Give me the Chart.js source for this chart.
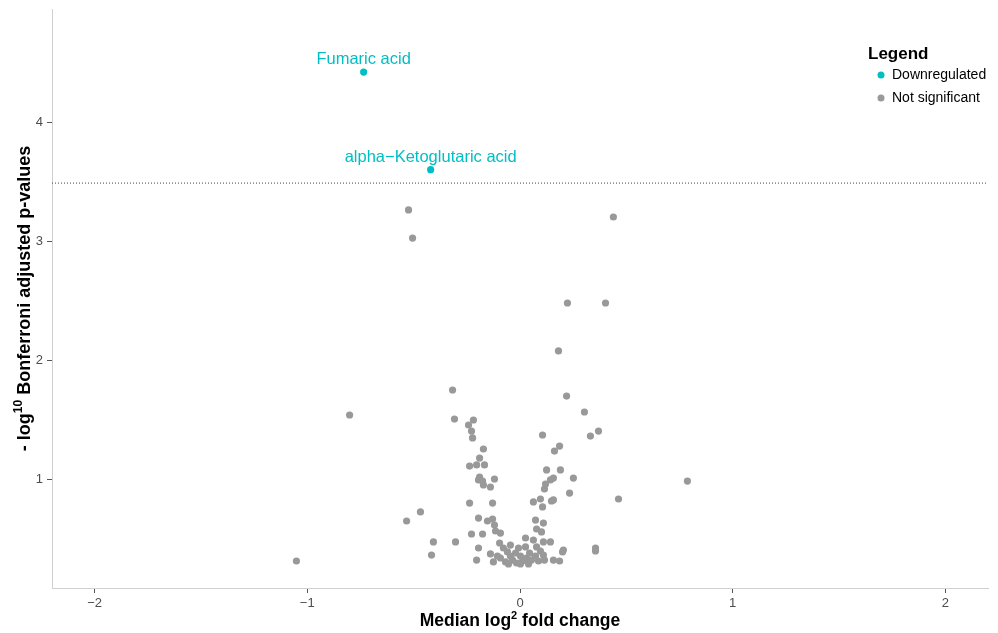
<!DOCTYPE html>
<html>
<head>
<meta charset="utf-8">
<script src="https://cdn.jsdelivr.net/npm/chart.js@4/dist/chart.umd.min.js"></script>
<style>
  html, body { margin: 0; padding: 0; background: #ffffff; }
  #wrap { width: 998px; height: 633px; }
</style>
</head>
<body>
<div id="wrap"><canvas id="c" width="998" height="633"></canvas></div>
<script>
// Metabolites passing the Bonferroni threshold (labelled)
const downNames = ["Fumaric acid", "alpha\u2212Ketoglutaric acid"];
const downX = [-0.735, -0.42];
const downY = [4.42, 3.60];

// Metabolites below the threshold
const nsX = [-0.524, -0.505, 0.439, 0.223, 0.402, 0.181, -0.317, 0.219, -0.801, 0.303,
  0.369, 0.331, -0.308, -0.219, -0.242, -0.228, -0.223, 0.106, -0.172, 0.186,
  0.162, -0.190, -0.237, -0.204, -0.167, -0.190, -0.195, -0.176, -0.120, -0.172,
  -0.139, 0.125, 0.190, 0.251, 0.157, 0.143, 0.120, 0.115, 0.233, 0.096,
  0.063, 0.148, 0.157, 0.106, -0.237, -0.129, 0.787, 0.463, -1.051, -0.407,
  -0.416, -0.533, -0.468, -0.303, -0.195, -0.153, -0.129, -0.120, -0.115, -0.092,
  -0.228, -0.176, -0.195, -0.204, -0.096, -0.139, -0.125, 0.073, 0.110, 0.078,
  0.101, 0.026, 0.063, 0.110, 0.143, 0.204, 0.200, 0.355, 0.355, 0.157,
  0.186, -0.078, -0.059, -0.045, -0.035, -0.068, -0.092, -0.021, -0.007, 0.002,
  0.012, -0.016, 0.031, 0.045, 0.054, 0.073, 0.087, 0.096, 0.110, 0.115,
  -0.045, -0.106, -0.054, 0.002, 0.040, 0.078, 0.026];
const nsY = [3.261, 3.025, 3.202, 2.479, 2.479, 2.076, 1.748, 1.697, 1.538, 1.563,
  1.403, 1.361, 1.504, 1.496, 1.454, 1.403, 1.345, 1.370, 1.252, 1.277,
  1.235, 1.176, 1.109, 1.118, 1.118, 1.017, 0.992, 0.983, 1.000, 0.950,
  0.933, 1.076, 1.076, 1.008, 1.008, 0.992, 0.958, 0.916, 0.882, 0.832,
  0.807, 0.815, 0.824, 0.765, 0.798, 0.798, 0.983, 0.832, 0.311, 0.471,
  0.361, 0.647, 0.723, 0.471, 0.672, 0.647, 0.664, 0.613, 0.563, 0.546,
  0.538, 0.538, 0.420, 0.319, 0.462, 0.370, 0.303, 0.655, 0.630, 0.580,
  0.555, 0.504, 0.487, 0.471, 0.471, 0.403, 0.387, 0.420, 0.395, 0.319,
  0.311, 0.420, 0.387, 0.353, 0.319, 0.303, 0.336, 0.378, 0.420, 0.353,
  0.311, 0.294, 0.336, 0.378, 0.319, 0.353, 0.311, 0.395, 0.361, 0.319,
  0.445, 0.353, 0.286, 0.286, 0.286, 0.429, 0.429];

const xTicks = [-2, -1, 0, 1, 2];
const yTicks = [1, 2, 3, 4];
const xLimits = [-2.2, 2.2];
const yLimits = [0.084, 4.95];
const threshold = 3.487;
const seriesNames = ["Downregulated", "Not significant"];

const TEAL = "#00BFC4";
const GREY = "#999999";
const FONT = '"Liberation Sans", Arial, Helvetica, sans-serif';

// draws a title with superscript parts, centred on cx
function drawRich(ctx, parts, cx, baseline, size) {
  const supSize = Math.round(size * 0.65);
  let total = 0;
  parts.forEach(p => {
    ctx.font = "bold " + (p.sup ? supSize : size) + "px " + FONT;
    p.w = ctx.measureText(p.t).width;
    total += p.w;
  });
  let x = cx - total / 2;
  ctx.textAlign = "left";
  ctx.textBaseline = "alphabetic";
  parts.forEach(p => {
    ctx.font = "bold " + (p.sup ? supSize : size) + "px " + FONT;
    ctx.fillText(p.t, x, baseline - (p.sup ? size * 0.42 : 0));
    x += p.w;
  });
}

const annotations = {
  id: "annotations",
  afterDatasetsDraw(chart) {
    const ctx = chart.ctx;
    const xs = chart.scales.x, ys = chart.scales.y;
    const area = chart.chartArea;
    ctx.save();

    // point labels
    ctx.fillStyle = TEAL;
    ctx.font = "16.5px " + FONT;
    ctx.textAlign = "center";
    ctx.textBaseline = "alphabetic";
    downNames.forEach((n, i) => {
      ctx.fillText(n, xs.getPixelForValue(downX[i]), ys.getPixelForValue(downY[i]) - 8);
    });

    // axis titles
    ctx.fillStyle = "#000000";
    drawRich(ctx, [{t: "Median log"}, {t: "2", sup: true}, {t: " fold change"}],
      (area.left + area.right) / 2, 626, 17.5);
    ctx.save();
    ctx.translate(30, (area.top + area.bottom) / 2);
    ctx.rotate(-Math.PI / 2);
    drawRich(ctx, [{t: "- log"}, {t: "10", sup: true}, {t: " Bonferroni adjusted p-values"}], 0, 0, 18);
    ctx.restore();

    // legend
    ctx.fillStyle = "#000000";
    ctx.font = "bold 17px " + FONT;
    ctx.textAlign = "left";
    ctx.textBaseline = "alphabetic";
    ctx.fillText("Legend", 868, 59);
    const colors = [TEAL, GREY];
    seriesNames.forEach((n, i) => {
      const cy = 75 + i * 23;
      ctx.fillStyle = colors[i];
      ctx.beginPath();
      ctx.arc(881, cy, 3.5, 0, Math.PI * 2);
      ctx.fill();
      ctx.fillStyle = "#000000";
      ctx.font = "14px " + FONT;
      ctx.textBaseline = "middle";
      ctx.fillText(n, 892, cy);
    });
    ctx.restore();
  }
};

new Chart(document.getElementById("c"), {
  type: "scatter",
  data: {
    datasets: [
      {
        label: "threshold",
        type: "line",
        data: [{x: xLimits[0], y: threshold}, {x: xLimits[1], y: threshold}],
        showLine: true,
        borderColor: "#444444",
        borderWidth: 1,
        borderDash: [1, 2],
        pointRadius: 0,
        fill: false
      },
      {
        label: seriesNames[1],
        data: nsX.map((x, i) => ({x: x, y: nsY[i]})),
        backgroundColor: GREY,
        borderWidth: 0,
        pointRadius: 3.6
      },
      {
        label: seriesNames[0],
        data: downX.map((x, i) => ({x: x, y: downY[i]})),
        backgroundColor: TEAL,
        borderWidth: 0,
        pointRadius: 3.6
      }
    ]
  },
  options: {
    responsive: false,
    devicePixelRatio: 1,
    animation: false,
    layout: { padding: { top: 9, right: 10, left: 0, bottom: 0 } },
    plugins: { legend: { display: false }, tooltip: { enabled: false } },
    scales: {
      x: {
        type: "linear",
        min: xLimits[0], max: xLimits[1],
        afterBuildTicks: s => { s.ticks = xTicks.map(v => ({value: v})); },
        afterFit: s => { s.height = 45; s.paddingLeft = 0; s.paddingRight = 0; },
        grid: { drawOnChartArea: false, drawTicks: true, tickLength: 5, color: "#555555" },
        border: { color: "#d0d0d0", width: 1 },
        ticks: {
          color: "#4d4d4d", padding: 3,
          font: { family: FONT, size: 13 },
          callback: v => String(v).replace("-", "\u2212")
        }
      },
      y: {
        type: "linear",
        min: yLimits[0], max: yLimits[1],
        afterBuildTicks: s => { s.ticks = yTicks.map(v => ({value: v})); },
        afterFit: s => { s.width = 52; s.paddingTop = 0; s.paddingBottom = 0; },
        grid: { drawOnChartArea: false, drawTicks: true, tickLength: 5, color: "#555555" },
        border: { color: "#d0d0d0", width: 1 },
        ticks: {
          color: "#4d4d4d", padding: 4,
          font: { family: FONT, size: 13 }
        }
      }
    }
  },
  plugins: [annotations]
});
</script>
</body>
</html>
